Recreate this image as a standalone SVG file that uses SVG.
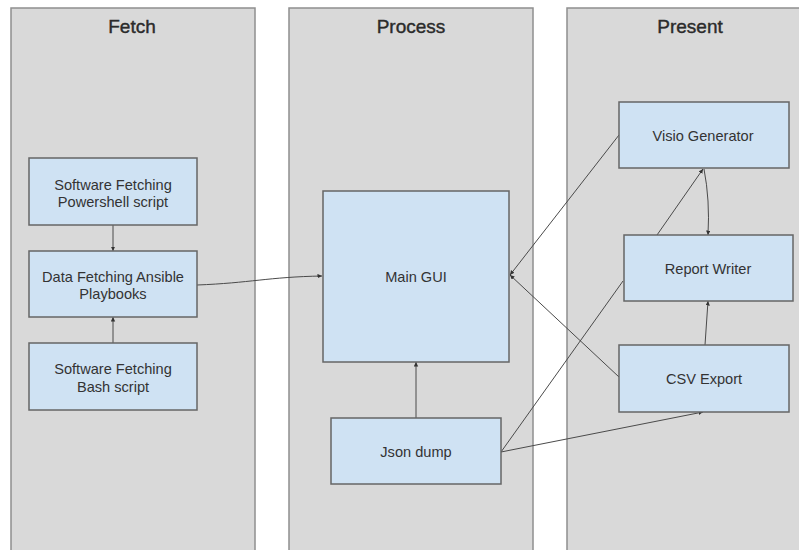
<svg xmlns="http://www.w3.org/2000/svg" width="799" height="550" viewBox="0 0 799 550">
  <style>
    .lane { fill: #d9d9d9; stroke: #8f8f8f; stroke-width: 1.5; }
    .title { font-family: "Liberation Sans", Arial, sans-serif; font-size: 19px; fill: #2b2b2b; stroke: #2b2b2b; stroke-width: 0.4; text-anchor: middle; }
    .node { fill: #cfe2f3; stroke: #666666; stroke-width: 1.5; }
    .label { font-family: "Liberation Sans", Arial, sans-serif; font-size: 14.6px; fill: #333333; text-anchor: middle; }
    .conn { fill: none; stroke: #4a4a4a; stroke-width: 1; }
  </style>
  <defs>
    <marker id="arr" markerUnits="userSpaceOnUse" markerWidth="6" markerHeight="6" refX="4.5" refY="2.2" orient="auto">
      <path d="M0,0 L4.5,2.2 L0,4.4 z" fill="#333333"/>
    </marker>
  </defs>
  <rect width="799" height="550" fill="#ffffff"/>

  <g id="lane-fetch">
    <rect class="lane" x="11" y="8" width="244" height="560"/>
    <text class="title" x="132" y="33">Fetch</text>
  </g>
  <g id="lane-process">
    <rect class="lane" x="289" y="8" width="244" height="560"/>
    <text class="title" x="411" y="33">Process</text>
  </g>
  <g id="lane-present">
    <rect class="lane" x="567" y="8" width="260" height="560"/>
    <text class="title" x="690" y="33">Present</text>
  </g>

  <g id="connectors">
    <path class="conn" d="M113,225 L113,251" marker-end="url(#arr)"/>
    <path class="conn" d="M113,343 L113,317" marker-end="url(#arr)"/>
    <path class="conn" d="M197,285 C250,283 268,277 322,276" marker-end="url(#arr)"/>
    <path class="conn" d="M416,418 L416,362" marker-end="url(#arr)"/>
    <path class="conn" d="M619,135 L510,275" marker-end="url(#arr)"/>
    <path class="conn" d="M619,377 L510,275" marker-end="url(#arr)"/>
    <path class="conn" d="M501,452 L623,281"/>
    <path class="conn" d="M501,452 L703,412" marker-end="url(#arr)"/>
    <path class="conn" d="M657,235 L703,169" marker-end="url(#arr)"/>
    <path class="conn" d="M704,169 Q710,200 708,235" marker-end="url(#arr)"/>
    <path class="conn" d="M705,345 L708,301" marker-end="url(#arr)"/>
  </g>

  <g id="node-powershell">
    <rect class="node" x="29" y="158" width="168" height="67"/>
    <text class="label" x="113" y="190">Software Fetching</text>
    <text class="label" x="113" y="207">Powershell script</text>
  </g>
  <g id="node-ansible">
    <rect class="node" x="29" y="251" width="168" height="66"/>
    <text class="label" x="113" y="282">Data Fetching Ansible</text>
    <text class="label" x="113" y="299">Playbooks</text>
  </g>
  <g id="node-bash">
    <rect class="node" x="29" y="343" width="168" height="67"/>
    <text class="label" x="113" y="374">Software Fetching</text>
    <text class="label" x="113" y="392">Bash script</text>
  </g>
  <g id="node-main-gui">
    <rect class="node" x="323" y="191" width="186" height="171"/>
    <text class="label" x="416" y="282">Main GUI</text>
  </g>
  <g id="node-json-dump">
    <rect class="node" x="331" y="418" width="170" height="66"/>
    <text class="label" x="416" y="457">Json dump</text>
  </g>
  <g id="node-visio">
    <rect class="node" x="619" y="102" width="170" height="66"/>
    <text class="label" x="703" y="141">Visio Generator</text>
  </g>
  <g id="node-report">
    <rect class="node" x="624" y="235" width="169" height="66"/>
    <text class="label" x="708" y="274">Report Writer</text>
  </g>
  <g id="node-csv">
    <rect class="node" x="619" y="345" width="170" height="67"/>
    <text class="label" x="704" y="384">CSV Export</text>
  </g>
</svg>
